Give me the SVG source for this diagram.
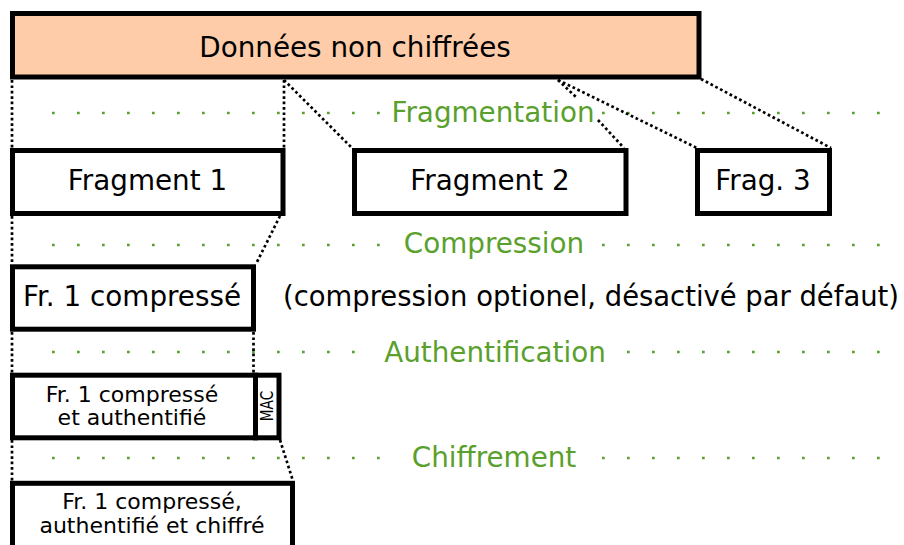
<svg xmlns="http://www.w3.org/2000/svg" width="904" height="545" viewBox="0 0 904 545">
<defs>
<style>
.box{fill:#ffffff;stroke:#000000;stroke-width:5}
.top{fill:#ffccaa;stroke:#000000;stroke-width:5}
.t{font-family:"DejaVu Sans","Liberation Sans",sans-serif;fill:#000000}
.big{font-size:27.8px}
.small{font-size:22px}
.g{font-family:"DejaVu Sans","Liberation Sans",sans-serif;font-size:27.8px;fill:#5aa02c;text-anchor:middle}
.gd{stroke:#5aa02c;stroke-width:2.7;stroke-dasharray:2.7 22.3;fill:none}
.c{stroke:#000000;stroke-width:2.7;stroke-dasharray:2.7 2.7;fill:none}
</style>
</defs>
<rect width="904" height="545" fill="#ffffff"/>
<g id="stages">
<path class="gd" d="M52,113 H380 M602,113 H880"/>
<path class="gd" d="M52,245 H380 M602,245 H880"/>
<path class="gd" d="M52,352 H355 M627,352 H880"/>
<path class="gd" d="M52,458 H380 M602,458 H880"/>
<text class="g" x="493" y="122">Fragmentation</text>
<text class="g" x="494" y="253">Compression</text>
<text class="g" x="495" y="362">Authentification</text>
<text class="g" x="494" y="467">Chiffrement</text>
</g>
<g id="connectors">
<path class="c" d="M12,80 V148"/>
<path class="c" d="M284,80 V148"/>
<path class="c" d="M284,80 L352,148"/>
<path class="c" d="M558,80 L576,97 M598,120 L624,148"/>
<path class="c" d="M558,80 L697,148"/>
<path class="c" d="M701,79 L831,148"/>
<path class="c" d="M12,216 V264"/>
<path class="c" d="M280,216 L256,264"/>
<path class="c" d="M12,332 V373"/>
<path class="c" d="M253.5,332 V373"/>
<path class="c" d="M12,440 V481"/>
<path class="c" d="M280,440 L293,481"/>
</g>
<g id="donnees">
<rect class="top" x="12.5" y="13.5" width="686.5" height="63.5"/>
<text class="t big" x="355" y="57" text-anchor="middle">Données non chiffrées</text>
</g>
<g id="fragment1">
<rect class="box" x="12.5" y="150.5" width="270.5" height="63"/>
<text class="t big" x="147.5" y="190" text-anchor="middle">Fragment 1</text>
</g>
<g id="fragment2">
<rect class="box" x="354.5" y="150.5" width="271.5" height="63"/>
<text class="t big" x="490" y="190" text-anchor="middle">Fragment 2</text>
</g>
<g id="fragment3">
<rect class="box" x="697.5" y="150.5" width="132" height="63"/>
<text class="t big" x="763" y="190" text-anchor="middle">Frag. 3</text>
</g>
<g id="compresse">
<rect class="box" x="12.5" y="266.8" width="241" height="62.4"/>
<text class="t big" x="132" y="306" text-anchor="middle">Fr. 1 compressé</text>
</g>
<g id="note">
<text class="t" font-size="27.5" x="283" y="306" textLength="616" lengthAdjust="spacingAndGlyphs">(compression optionel, désactivé par défaut)</text>
</g>
<g id="authentifie">
<rect class="box" x="12.5" y="375.2" width="243" height="62.6"/>
<text class="t small" x="132" y="401.7" text-anchor="middle">Fr. 1 compressé</text>
<text class="t small" x="132" y="425" text-anchor="middle">et authentifié</text>
</g>
<g id="mac">
<rect class="box" x="255.5" y="375.2" width="23.5" height="62.6"/>
<text class="t" font-size="17" text-anchor="middle" transform="translate(272.5,406) rotate(-90) scale(0.8,1)">MAC</text>
</g>
<g id="chiffre">
<rect class="box" x="12.5" y="483.3" width="280" height="75"/>
<text class="t small" x="152" y="509.3" text-anchor="middle">Fr. 1 compressé,</text>
<text class="t small" x="152" y="533.3" text-anchor="middle">authentifié et chiffré</text>
</g>
</svg>
